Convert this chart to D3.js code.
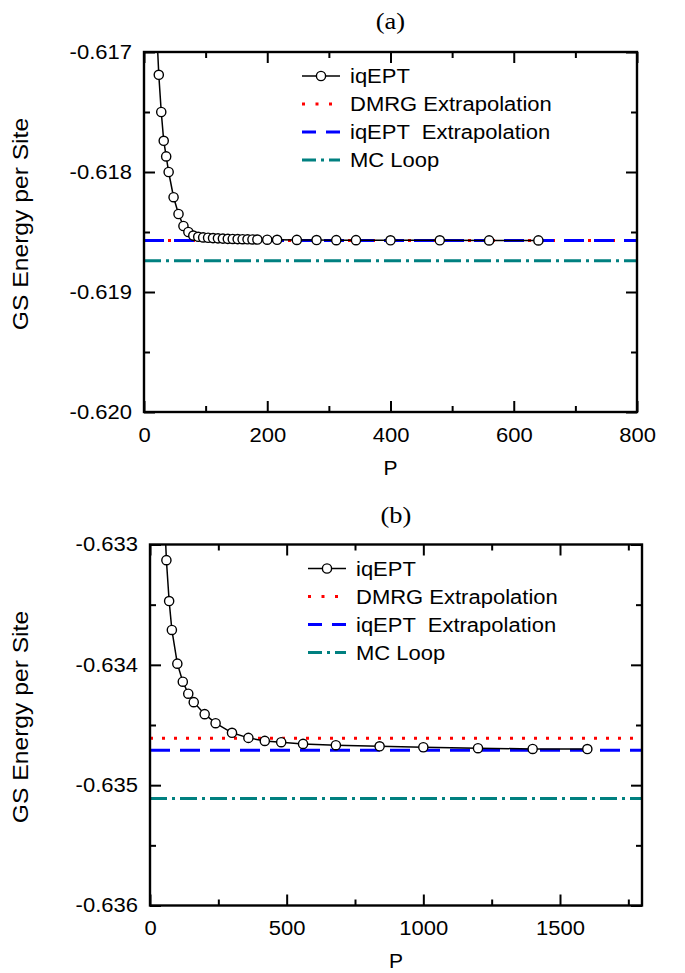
<!DOCTYPE html>
<html>
<head>
<meta charset="utf-8">
<script src="https://cdn.jsdelivr.net/npm/d3@7"></script>
<style>
  body { margin: 0; background: #fff; }
  text { font-family: "Liberation Sans", Arial, sans-serif; }
</style>
</head>
<body>
<div id="chart"></div>
<script>
// Panel (a) data
const pA = [20, 24, 28, 32, 36, 40, 48, 56, 64, 72, 80, 88, 96, 104, 112, 120, 128, 136, 144,
  152, 160, 168, 176, 184, 200, 216, 248, 280, 312, 344, 400, 480, 560, 640];
const eA = [-0.61675, -0.61719, -0.6175, -0.61774, -0.61787, -0.618, -0.61821, -0.61835,
  -0.61845, -0.6185, -0.61853, -0.61854, -0.618545, -0.618548, -0.618551, -0.618553,
  -0.618555, -0.618557, -0.618558, -0.618559, -0.61856, -0.618561, -0.618562, -0.618563,
  -0.618564, -0.618565, -0.618566, -0.618567, -0.618568, -0.618568, -0.618569, -0.618569,
  -0.61857, -0.61857];
const refA = { dmrg: -0.61857, iqept: -0.61857, mc: -0.61874 };

// Panel (b) data
const pB = [50, 60, 70, 80, 100, 120, 140, 160, 200, 240, 300, 360, 420, 480, 560, 680, 840,
  1000, 1200, 1400, 1600];
const eB = [-0.6326, -0.63313, -0.63347, -0.63371, -0.63399, -0.63414, -0.63424, -0.63431,
  -0.63441, -0.634485, -0.634565, -0.634607, -0.634632, -0.634643, -0.634657, -0.634668,
  -0.634677, -0.634685, -0.634693, -0.634699, -0.6347];
const refB = { dmrg: -0.63461, iqept: -0.63471, mc: -0.63511 };

// Tick values
const xMajorA = [0, 200, 400, 600, 800];
const xMinorA = [100, 300, 500, 700];
const yMajorA = [-0.617, -0.618, -0.619, -0.62];
const yMinorA = [-0.6175, -0.6185, -0.6195];
const xMajorB = [0, 500, 1000, 1500];
const xMinorB = [250, 750, 1250, 1750];
const yMajorB = [-0.633, -0.634, -0.635, -0.636];
const yMinorB = [-0.6335, -0.6345, -0.6355];

const legendLabels = ["iqEPT", "DMRG Extrapolation", "iqEPT  Extrapolation", "MC Loop"];

const W = 685, H = 973;
const svg = d3.select("#chart").append("svg").attr("width", W).attr("height", H);

// Line styles: [color, dash in plot, dash in legend]
const styles = {
  dmrg: ["#ff0000", "3,9", "3,10.5"],
  iqept: ["#0000ff", "20,10", "14,10"],
  mc: ["#008080", "17,5,3,5", "14,5,3,5"],
};

// the original's sans text is a little wider than Liberation Sans
function stretch(sel, k) {
  sel.each(function () {
    const len = this.getComputedTextLength();
    if (len > 0) {
      d3.select(this).attr("textLength", len * k).attr("lengthAdjust", "spacingAndGlyphs");
    }
  });
}

function drawPanel(o) {
  const g = svg.append("g").attr("transform", "translate(" + o.left + "," + o.top + ")");
  const x = d3.scaleLinear().domain(o.xDomain).range([0, o.w]);
  const y = d3.scaleLinear().domain(o.yDomain).range([o.h, 0]);

  // clip
  g.append("clipPath").attr("id", o.id + "-clip")
    .append("rect").attr("width", o.w).attr("height", o.h);
  const plot = g.append("g").attr("clip-path", "url(#" + o.id + "-clip)");

  // reference lines
  ["dmrg", "iqept", "mc"].forEach((k) => {
    plot.append("line")
      .attr("x1", x(o.xDomain[0])).attr("x2", x(o.xDomain[1]))
      .attr("y1", y(o.ref[k])).attr("y2", y(o.ref[k]))
      .attr("stroke", styles[k][0]).attr("stroke-width", 3)
      .attr("stroke-dasharray", styles[k][1]);
  });

  // data
  const pts = o.p.map((p, i) => [p, o.e[i]]);
  plot.append("path").datum(pts)
    .attr("fill", "none").attr("stroke", "#000").attr("stroke-width", 1.5)
    .attr("d", d3.line().x((d) => x(d[0])).y((d) => y(d[1])));
  plot.selectAll(".pt").data(pts).enter().append("circle")
    .attr("class", "pt")
    .attr("cx", (d) => x(d[0])).attr("cy", (d) => y(d[1]))
    .attr("r", 4.6).attr("fill", "#fff").attr("stroke", "#000").attr("stroke-width", 1.4);

  // axes (ticks inward on all sides)
  const fmt = (d) => d.toFixed(3);
  const axes = [
    [d3.axisBottom(x).tickValues(o.xMajor).tickFormat(d3.format("d")), "translate(0," + o.h + ")", -11, o.xPad],
    [d3.axisBottom(x).tickValues(o.xMinor).tickFormat(""), "translate(0," + o.h + ")", -6, 0],
    [d3.axisTop(x).tickValues(o.xMajor).tickFormat(""), null, -11, 0],
    [d3.axisTop(x).tickValues(o.xMinor).tickFormat(""), null, -6, 0],
    [d3.axisLeft(y).tickValues(o.yMajor).tickFormat(fmt), null, -11, 12],
    [d3.axisLeft(y).tickValues(o.yMinor).tickFormat(""), null, -6, 0],
    [d3.axisRight(y).tickValues(o.yMajor).tickFormat(""), "translate(" + o.w + ",0)", -11, 0],
    [d3.axisRight(y).tickValues(o.yMinor).tickFormat(""), "translate(" + o.w + ",0)", -6, 0],
  ];
  axes.forEach(([ax, tr, size, pad]) => {
    const a = g.append("g");
    if (tr) a.attr("transform", tr);
    a.call(ax.tickSizeInner(size).tickSizeOuter(0).tickPadding(pad));
    a.select(".domain").remove();
    a.selectAll("line").attr("stroke-width", 2);
    const t = a.selectAll("text").attr("font-size", 20).attr("fill", "#000")
      .style("font-family", '"Liberation Sans", Arial, sans-serif');
    stretch(t, 1.1);
  });

  // frame
  g.append("rect").attr("width", o.w).attr("height", o.h)
    .attr("fill", "none").attr("stroke", "#000").attr("stroke-width", 2.4);

  // labels
  g.append("text").attr("x", o.w / 2).attr("y", o.h + o.pLabel)
    .attr("text-anchor", "middle").attr("font-size", 21).text("P");
  const yl = g.append("text")
    .attr("transform", "translate(" + (28 - o.left) + "," + (o.h / 2 - 8) + ") rotate(-90)")
    .attr("text-anchor", "middle").attr("font-size", 22).text("GS Energy per Site");
  stretch(yl, 1.12);
  const tt = g.append("text").attr("x", o.w / 2).attr("y", o.title)
    .attr("text-anchor", "middle").attr("font-size", 23)
    .style("font-family", '"Liberation Serif", "DejaVu Serif", serif')
    .text(o.name);
  stretch(tt, 1.15);

  // legend
  const lg = g.append("g").attr("transform", "translate(158,24)");
  const keys = [null, "dmrg", "iqept", "mc"];
  keys.forEach((k, i) => {
    const row = lg.append("g").attr("transform", "translate(0," + i * 28 + ")");
    if (k === null) {
      row.append("line").attr("x1", 0).attr("x2", 38).attr("stroke", "#000").attr("stroke-width", 1.5);
      row.append("circle").attr("cx", 19).attr("r", 4.6)
        .attr("fill", "#fff").attr("stroke", "#000").attr("stroke-width", 1.4);
    } else {
      row.append("line").attr("x1", 0).attr("x2", 38)
        .attr("stroke", styles[k][0]).attr("stroke-width", 3)
        .attr("stroke-dasharray", styles[k][2]);
    }
    const t = row.append("text").attr("x", 48).attr("dy", "0.36em")
      .attr("font-size", 20).attr("xml:space", "preserve")
      .style("white-space", "pre").text(legendLabels[i]);
    stretch(t, 1.1);
  });
}

drawPanel({
  id: "a", name: "(a)", left: 144, top: 52, w: 493, h: 360,
  xDomain: [0, 800], yDomain: [-0.62, -0.617],
  xMajor: xMajorA, xMinor: xMinorA, yMajor: yMajorA, yMinor: yMinorA,
  p: pA, e: eA, ref: refA, xPad: 16, pLabel: 63, title: -23,
});

drawPanel({
  id: "b", name: "(b)", left: 150, top: 544.5, w: 492, h: 361,
  xDomain: [0, 1800], yDomain: [-0.636, -0.633],
  xMajor: xMajorB, xMinor: xMinorB, yMajor: yMajorB, yMinor: yMinorB,
  p: pB, e: eB, ref: refB, xPad: 15, pLabel: 62, title: -22,
});
</script>
</body>
</html>
